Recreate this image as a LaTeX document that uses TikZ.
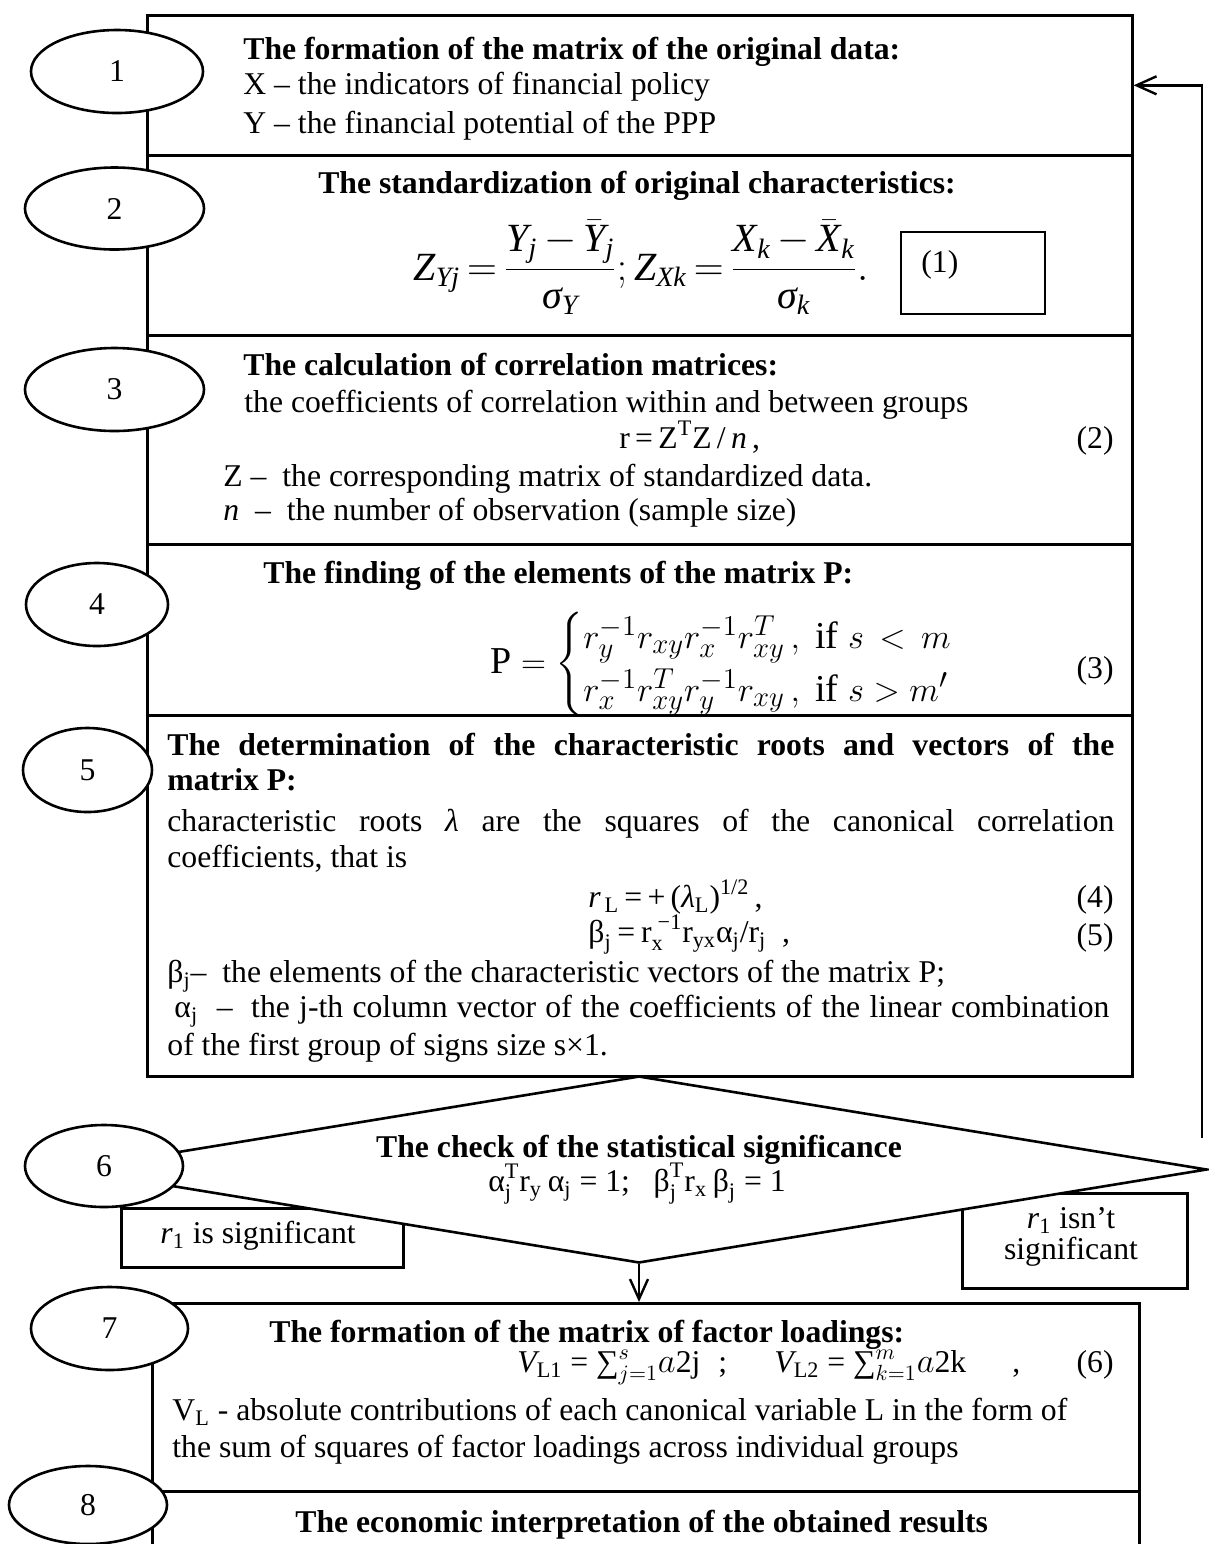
\documentclass[tikz,border=0pt]{standalone}
\usepackage{amsmath}
\usepackage{fontspec}
\setmainfont{Liberation Serif}
\usetikzlibrary{shapes.geometric,arrows.meta}
\newcommand\nsz{\fontsize{15.85}{19}\selectfont}
\newcommand\bsz{\fontsize{20}{24}\selectfont}
\newcommand\csz{\fontsize{19}{22}\selectfont}
\begin{document}
\begin{tikzpicture}[x=0.5pt,y=-0.5pt,
  box/.style={draw, line width=1.3pt, inner sep=0, anchor=north west},
  ell/.style={ellipse, draw, fill=white, line width=1.3pt, inner sep=0, font=\nsz},
  txt/.style={anchor=base west, inner sep=0, font=\nsz},
  txtr/.style={anchor=base east, inner sep=0, font=\nsz},
  txtc/.style={anchor=base, inner sep=0, font=\nsz},
  ttl/.style={anchor=base west, inner sep=0, font=\nsz\bfseries},
  arr/.style={-{Straight Barb[length=10pt,width=9pt]}, line width=1.2pt}]

\useasboundingbox (0,0) rectangle (1209,1544);

% boxes
\node[box, minimum width=492.5pt, minimum height=70pt] (b1) at (146,14) {};
\node[box, minimum width=492.5pt, minimum height=90pt] (b2) at (146,154) {};
\node[box, minimum width=492.5pt, minimum height=104.5pt] (b3) at (146,334) {};
\node[box, minimum width=492.5pt, minimum height=85.5pt] (b4) at (146,543) {};
\node[box, minimum width=492.5pt, minimum height=180.5pt] (b5) at (146,714) {};
\node[box, minimum width=493.5pt, minimum height=94pt] (b7) at (151,1302) {};
\node[box, minimum width=493.5pt, minimum height=60pt] (b8) at (151,1490) {};
\node[box, line width=0.85pt, minimum width=72pt, minimum height=41pt] (q1) at (900,231) {};

% result boxes
\node[box, minimum width=141pt, minimum height=29.5pt] (sig) at (120,1207) {};
\node[box, minimum width=112.5pt, minimum height=47.5pt] (nsig) at (961,1192) {};

% decision
\node[diamond, draw, fill=white, line width=1.3pt, inner sep=0,
      minimum width=568pt, minimum height=93.5pt] (chk) at (639,1169.5) {};

% ellipses
\node[ell, minimum width=86pt, minimum height=41.5pt] (e1) at (117,71.5) {1};
\node[ell, minimum width=89.5pt, minimum height=41pt] (e2) at (114.5,208.5) {2};
\node[ell, minimum width=89.5pt, minimum height=41.5pt] (e3) at (114.5,389.5) {3};
\node[ell, minimum width=71pt, minimum height=41.5pt] (e4) at (97,604.5) {4};
\node[ell, minimum width=64.5pt, minimum height=42pt] (e5) at (87.5,770) {5};
\node[ell, minimum width=79pt, minimum height=41pt] (e6) at (104,1166) {6};
\node[ell, minimum width=78.5pt, minimum height=41.5pt] (e7) at (109.5,1328.5) {7};
\node[ell, minimum width=79pt, minimum height=39pt] (e8) at (88,1505) {8};

% box 1
\node[ttl] (t1) at (243,59) {The formation of the matrix of the original data:};
\node[txt] (t1a) at (243,94) {X – the indicators of financial policy};
\node[txt] (t1b) at (243,133) {Y – the financial potential of the PPP};

% box 2
\node[txtc, font=\nsz\bfseries] (t2) at (637,193) {The standardization of original characteristics:};
\node[anchor=base, inner sep=0, font=\bsz] (f1) at (641,280)
  {$\displaystyle \textit{Z}_{\textit{Yj}}\,{=}\,\frac{\rule[-6pt]{0pt}{6pt}\textit{Y}_{\textit{j}}\,{-}\,\bar{\textit{Y}}_{\textit{j}}}{\rule{0pt}{16pt}\textit{σ}_{\textit{Y}}};\textit{Z}_{\textit{Xk}}\,{=}\,\frac{\rule[-6pt]{0pt}{6pt}\textit{X}_{\textit{k}}\,{-}\,\bar{\textit{X}}_{\textit{k}}}{\rule{0pt}{16pt}\textit{σ}_{\textit{k}}}.$};
\node[txt] (q1t) at (921,272) {(1)};

% box 3
\node[ttl] (t3) at (243,375) {The calculation of correlation matrices:};
\node[txt] (t3a) at (244,412) {the coefficients of correlation within and between groups};
\node[txt] (f2) at (619,448) {r\,=\,Z\textsuperscript{T}Z\,/\,\textit{n}\,,};
\node[txtr] (n2) at (1114,448) {(2)};
\node[txt] (t3b) at (223,486) {Z –\ \ the corresponding matrix of standardized data.};
\node[txt] (t3c) at (223,520) {\textit{n}\ \ –\ \ the number of observation (sample size)};

% box 4
\node[ttl] (t4) at (263,583) {The finding of the elements of the matrix P:};
\node[anchor=base west, inner sep=0, font=\csz] (f3) at (490,673)
  {$\mathrm{P} = \begin{cases} r_y^{-1} r_{xy} r_x^{-1} r_{xy}^T\,,\ \text{if}\ s\, <\, m \\ r_x^{-1} r_{xy}^T r_y^{-1} r_{xy}\,,\ \text{if}\ s > m' \end{cases}$};
\node[txtr] (n3) at (1114,678) {(3)};

% box 5
\node[ttl] (t5) at (167,755) {\makebox[473.5pt][s]{The determination of the characteristic roots and vectors of the}};
\node[ttl] (t5b) at (167,790) {matrix P:};
\node[txt] (t5c) at (167,831) {\makebox[473.5pt][s]{characteristic roots \textit{λ} are the squares of the canonical correlation}};
\node[txt] (t5d) at (167,867) {coefficients, that is};
\node[txt] (f4) at (588,907) {\textit{r}\textsubscript{\,L}\,=\,+\,(\textit{λ}\textsubscript{L})\textsuperscript{1/2}\,,};
\node[txtr] (n4) at (1114,907) {(4)};
\node[txt] (f5) at (588,942) {$\text{β}_{\text{j}}\,\text{=}\,\text{r}_{\text{x}}^{\;\text{−1}}\text{r}_{\text{yx}}\text{α}_{\text{j}}\text{/r}_{\text{j}}$\ \ ,};
\node[txtr] (n5) at (1114,945) {(5)};
\node[txt] (t5e) at (167,982) {β\textsubscript{j}–\ \ the elements of the characteristic vectors of the matrix P;};
\node[txt] (t5f) at (174,1017) {\makebox[467.5pt][s]{α\textsubscript{j}\ \ –\ \ the j-th column vector of the coefficients of the linear combination}};
\node[txt] (t5g) at (167,1055) {of the first group of signs size s×1.};

% box 6
\node[txtc, font=\nsz\bfseries] (t6) at (639,1157) {The check of the statistical significance};
\node[txtc] (f6) at (637,1191) {$\text{α}_{\text{j}}^{\text{T}}\text{r}_{\text{y}}\,\text{α}_{\text{j}}\text{ = 1;\ \ \ }\text{β}_{\text{j}}^{\text{T}}\text{r}_{\text{x}}\,\text{β}_{\text{j}}\text{ = 1}$};
\node[txtc] (sigt) at (258,1243) {\textit{r}\textsubscript{1} is significant};
\node[txtc] (nsigt) at (1071,1228) {\textit{r}\textsubscript{1} isn’t};
\node[txtc] (nsigt2) at (1071,1259) {significant};

% box 7
\node[ttl] (t7) at (269,1342) {The formation of the matrix of factor loadings:};
\node[txt] (f7a) at (517,1372) {$\textit{V}_{\text{L1}}\text{ = }\text{∑}_{j=1}^{s} a\text{2j}$};
\node[txt] (f7s) at (718,1372) {;};
\node[txt] (f7b) at (774,1372) {$\textit{V}_{\text{L2}}\text{ = }\text{∑}_{k=1}^{m} a\text{2k}$};
\node[txt] (f7c) at (1012,1372) {,};
\node[txtr] (n6) at (1114,1372) {(6)};
\node[txt] (t7a) at (172,1420) {V\textsubscript{L} - absolute contributions of each canonical variable L in the form of};
\node[txt] (t7b) at (172,1457) {the sum of squares of factor loadings across individual groups};

% box 8
\node[ttl] (t8) at (295,1532) {The economic interpretation of the obtained results};

% connectors
\coordinate (loopstart) at (1202,1138);
\draw[arr] (loopstart) |- (b1.east);
\draw[arr] (chk.south) -- (chk.south |- b7.north);
\end{tikzpicture}
\end{document}
